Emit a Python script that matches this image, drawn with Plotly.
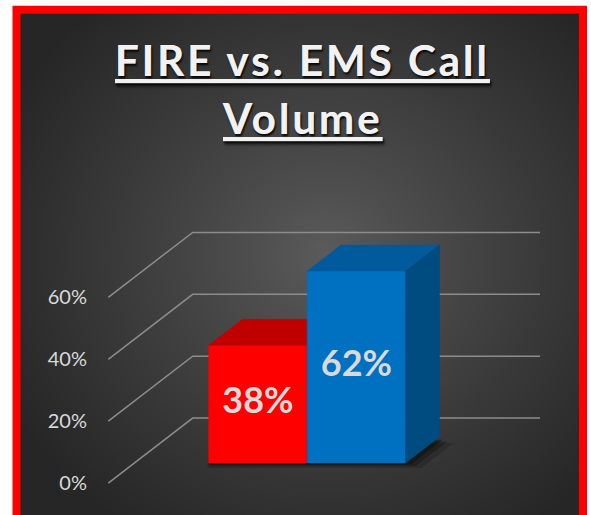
import zlib
import struct
import base64
import numpy as np
import plotly.graph_objects as go

# ---------------- data ----------------
categories = ["FIRE", "EMS"]
values = [38, 62]                      # percent of call volume
front_colors = ["#FF0000", "#0070C0"]
top_colors = ["#C00000", "#005A9C"]
side_colors = ["#9E0000", "#004B80"]
tick_values = [0, 20, 40, 60]
tick_labels = ["0%", "20%", "40%", "60%"]
title_lines = ["FIRE vs. EMS Call", "Volume"]

# ---------------- geometry / styling ----------------
W, H = 591, 515
PX_X = 98.5            # px per category unit
PX_Y = 3.095           # px per percent
X0_PX, Y0_PX = 231.8, 483.1   # pixel of (x=0, y=0) on the front plane
DEPTH_DX_PX, DEPTH_DY_PX = 84.4, -65.0
DX = DEPTH_DX_PX / PX_X
DY = -DEPTH_DY_PX / PX_Y
D0, D1 = 0.31, 0.71    # bar depth span (0 = front wall, 1 = back wall)
X_LEFT, X_RIGHT = -1.254, 2.272
PLOT_L, PLOT_R, PLOT_T, PLOT_B = 96, 560, 200, 500


def proj(x, y, d):
    return x + d * DX, y + d * DY


def poly(pts):
    xs, ys = zip(*[proj(*p) for p in pts])
    return list(xs) + [xs[0]], list(ys) + [ys[0]]


def png_data_uri(arr):
    h, w, _ = arr.shape
    raw = b"".join(b"\x00" + arr[r].tobytes() for r in range(h))

    def chunk(t, d):
        return struct.pack(">I", len(d)) + t + d + struct.pack(">I", zlib.crc32(t + d) & 0xFFFFFFFF)

    data = (b"\x89PNG\r\n\x1a\n"
            + chunk(b"IHDR", struct.pack(">IIBBBBB", w, h, 8, 2, 0, 0, 0))
            + chunk(b"IDAT", zlib.compress(raw, 9))
            + chunk(b"IEND", b""))
    return "data:image/png;base64," + base64.b64encode(data).decode()


# radial gradient background
gw, gh = 566, 505
yy, xx = np.mgrid[0:gh, 0:gw]
cx, cy = 310, 245
t = np.sqrt(((xx - cx) / 360.0) ** 2 + ((yy - cy) / 330.0) ** 2)
t = np.clip(t, 0, 1)
c_in, c_out = np.array([92, 92, 92]), np.array([38, 38, 38])
img = (c_in[None, None, :] + (c_out - c_in)[None, None, :] * t[..., None] ** 0.9).astype(np.uint8)
bg_uri = png_data_uri(img)

fig = go.Figure()

# perspective gridlines (left wall + back wall)
for v in tick_values:
    pts = [proj(X_LEFT, v, 0), proj(X_LEFT, v, 1), proj(X_RIGHT, v, 1)]
    fig.add_trace(go.Scatter(x=[p[0] for p in pts], y=[p[1] for p in pts], mode="lines",
                             line=dict(color="#8C8C8C", width=1.5), hoverinfo="skip",
                             showlegend=False))

# soft floor shadow under the bars
n = len(values)
for sx, sy, op in [(0.16, -1.6, 0.18), (0.10, -1.0, 0.25), (0.05, -0.5, 0.3)]:
    xs, ys = poly([(-0.5 - 0.02, 0, D0), (n - 0.5 + sx, 0, D0), (n - 0.5 + sx, 0, D1 - 0.02),
                   (-0.5, 0, D1 - 0.02)])
    ys = [y + sy for y in ys]
    fig.add_trace(go.Scatter(x=xs, y=ys, mode="lines", fill="toself",
                             fillcolor=f"rgba(0,0,0,{op})", line=dict(width=0),
                             hoverinfo="skip", showlegend=False))

# 3D bars
for i, v in enumerate(values):
    x0, x1 = i - 0.5, i + 0.5
    faces = [
        ([(x0, 0, D0), (x1, 0, D0), (x1, v, D0), (x0, v, D0)], front_colors[i]),
        ([(x0, v, D0), (x1, v, D0), (x1, v, D1), (x0, v, D1)], top_colors[i]),
        ([(x1, 0, D0), (x1, 0, D1), (x1, v, D1), (x1, v, D0)], side_colors[i]),
    ]
    for pts, col in faces:
        xs, ys = poly(pts)
        fig.add_trace(go.Scatter(x=xs, y=ys, mode="lines", fill="toself", fillcolor=col,
                                 line=dict(color=col, width=0.5), hoverinfo="skip",
                                 name=categories[i], showlegend=False))

# value labels centred on the front faces
lx, ly = zip(*[proj(i, v / 2, D0) for i, v in enumerate(values)])
fig.add_trace(go.Scatter(x=list(lx), y=list(ly), mode="text",
                         text=[f"{v}%" for v in values], textposition="middle center",
                         textfont=dict(family="Lato", size=36, color="#D9D9D9", weight="bold"),
                         hoverinfo="skip", showlegend=False))

xr = [(PLOT_L - X0_PX) / PX_X, (PLOT_R - X0_PX) / PX_X]
yr = [-(PLOT_B - Y0_PX) / PX_Y, (Y0_PX - PLOT_T) / PX_Y]

title_font = dict(family="Lato", size=42, color="#F2F2F2", weight="bold",
                  lineposition="under", shadow="1px 2px 2px rgba(0,0,0,0.6)")


def spaced(s):
    return f'<span style="letter-spacing:3px">{s}</span>'


annotations = [
    dict(text=spaced(title_lines[0]), x=302 / W, y=1 - 60 / H, xref="paper", yref="paper",
         xanchor="center", yanchor="middle", showarrow=False, font=title_font),
    dict(text=spaced(title_lines[1]), x=302 / W, y=1 - 118 / H, xref="paper", yref="paper",
         xanchor="center", yanchor="middle", showarrow=False, font=title_font),
]

fig.update_layout(
    width=W, height=H,
    margin=dict(l=0, r=0, t=0, b=0),
    paper_bgcolor="white",
    plot_bgcolor="rgba(0,0,0,0)",
    xaxis=dict(domain=[PLOT_L / W, PLOT_R / W], range=xr, visible=False, fixedrange=True),
    yaxis=dict(domain=[(H - PLOT_B) / H, (H - PLOT_T) / H], range=yr,
               tickvals=tick_values, ticktext=tick_labels, showgrid=False, zeroline=False,
               showline=False, ticks="outside", ticklen=4, tickcolor="rgba(0,0,0,0)",
               tickfont=dict(family="Lato", size=20, color="#D9D9D9"), fixedrange=True),
    images=[dict(source=bg_uri, xref="paper", yref="paper", x=16.5 / W, y=1 - 10 / H,
                 sizex=(583 - 16.5) / W, sizey=(515 - 10) / H, sizing="stretch",
                 xanchor="left", yanchor="top", layer="below")],
    shapes=[dict(type="rect", xref="paper", yref="paper", x0=16.5 / W, x1=583 / W,
                 y0=-6 / H, y1=1 - 9.75 / H, line=dict(color="#FF0000", width=8),
                 fillcolor="rgba(0,0,0,0)", layer="above")],
    annotations=annotations,
    showlegend=False,
)

fig.write_html("out.html", config={"displayModeBar": False},
               post_script="document.body.style.margin='0';")
